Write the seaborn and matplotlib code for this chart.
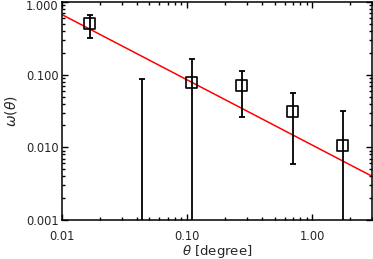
import numpy as np
import pandas as pd
import matplotlib
matplotlib.use("Agg")
import matplotlib.pyplot as plt
import matplotlib.ticker as mticker
import matplotlib.transforms as mtransforms
import seaborn as sns

theta = [0.0167, 0.0435, 0.109, 0.274, 0.695, 1.75]
w = [0.50, np.nan, 0.078, 0.070, 0.0307, 0.0105]   # 2nd point not shown on log axis
w_hi = [0.66, 0.087, 0.166, 0.112, 0.0555, 0.032]
w_lo = [0.32, 1e-5, 1e-5, 0.0264, 0.00586, 1e-5]    # 1e-5 -> runs off bottom of plot

# power-law fit
fit_theta = [0.01, 3.0]
fit_w = [0.67, 0.0040]

sns.set_style("ticks")
plt.rcParams["font.family"] = ["DejaVu Sans"]
plt.rcParams["mathtext.fontset"] = "dejavusans"
plt.rcParams["axes.linewidth"] = 1.1
plt.rcParams["xtick.direction"] = "in"
plt.rcParams["ytick.direction"] = "in"

fig = plt.figure(figsize=(3.73, 2.59), dpi=100)
ax = fig.add_axes([62 / 373, 1 - 220 / 259, 310 / 373, 218 / 259])

df = pd.DataFrame({"theta": theta, "w": w, "lo": w_lo, "hi": w_hi})
fit = pd.DataFrame({"theta": fit_theta, "w": fit_w})

ax.set_xscale("log")
ax.set_yscale("log")

sns.lineplot(data=fit, x="theta", y="w", color="red", lw=1.1, ax=ax)
ax.vlines(df["theta"], df["lo"], df["hi"], color="black", lw=1.3)
ax.plot(df["theta"], df["hi"], ls="none", marker="_", ms=4, mew=1.3, color="black")
ax.plot(df["theta"], df["lo"], ls="none", marker="_", ms=4, mew=1.3, color="black")
sns.scatterplot(data=df.dropna(), x="theta", y="w", marker="s", s=64,
                facecolor="none", edgecolor="black", linewidth=1.2, ax=ax, zorder=5)

ax.set_xlim(0.01, 3.0)
ax.set_ylim(0.001, 1.0)

ax.xaxis.set_major_locator(mticker.FixedLocator([0.01, 0.1, 1.0]))
ax.xaxis.set_major_formatter(mticker.FormatStrFormatter("%.2f"))
ax.xaxis.set_minor_locator(mticker.LogLocator(base=10, subs=np.arange(2, 10)))
ax.xaxis.set_minor_formatter(mticker.NullFormatter())
ax.yaxis.set_major_locator(mticker.FixedLocator([0.001, 0.01, 0.1, 1.0]))
ax.yaxis.set_major_formatter(mticker.FormatStrFormatter("%.3f"))
ax.yaxis.set_minor_locator(mticker.LogLocator(base=10, subs=np.arange(2, 10)))
ax.yaxis.set_minor_formatter(mticker.NullFormatter())

ax.tick_params(which="both", top=True, right=True, color="black", width=1.0)
ax.tick_params(which="major", length=4.5)
ax.tick_params(which="minor", length=2.2)
ax.tick_params(axis="x", which="major", pad=7.5, labelsize=8.3)
ax.tick_params(axis="y", which="major", pad=2.5, labelsize=8.3)

ax.set_xlabel(r"$\theta$ [degree]", fontsize=9.5, labelpad=-0.5)
ax.set_ylabel(r"$\omega(\theta)$", fontsize=10, labelpad=5)

# keep the top label inside the figure, as in the original
fig.canvas.draw()
top_lab = ax.get_yticklabels()[-1]
top_lab.set_transform(top_lab.get_transform() +
                      mtransforms.ScaledTranslation(0, -3 / 100, fig.dpi_scale_trans))

for s in ax.spines.values():
    s.set_visible(True)
    s.set_color("black")

fig.savefig("out.png", dpi=100)
